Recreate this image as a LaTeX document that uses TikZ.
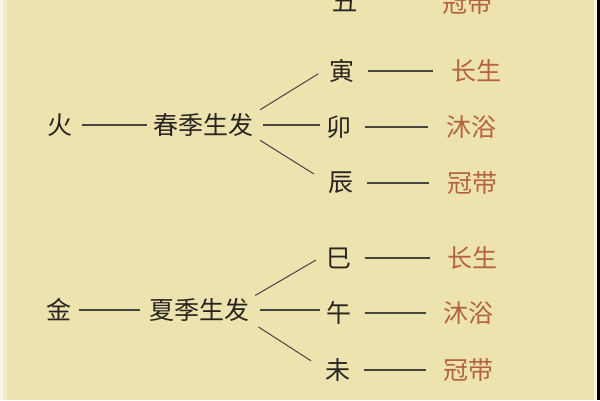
\documentclass[tikz,border=0pt]{standalone}
\usepackage{fontspec}
\usepackage{xcolor}
\usepackage{tikz}
\usetikzlibrary{positioning}
\newfontfamily\cjk{Noto Sans CJK SC}
\definecolor{paper}{RGB}{237,227,175}
\definecolor{ink}{RGB}{40,36,32}
\definecolor{rust}{RGB}{181,99,60}

\begin{document}
\begin{tikzpicture}[x=1pt, y=-1pt,
    zi/.style={text=ink, inner sep=0pt, font=\cjk\fontsize{25}{25}\selectfont},
    stage/.style={zi, text=rust},
    link/.style={draw=ink!85, line width=1.6pt},
    branch/.style={draw=ink!85, line width=1pt}]
    \useasboundingbox (0,0) rectangle (600,400);
    \clip (0,0) rectangle (600,400);
    % paper and its edges
    \fill[paper] (0,0) rectangle (600,400);
    \fill[white!70!paper] (0,0) rectangle (3,400);
    \fill[white!35!paper] (3,0) rectangle (7,400);
    \fill[white!60!paper] (594,0) rectangle (597,400);
    \fill[black] (597,0) rectangle (600,400);
    % cut row at the top
    \node[zi] (chou) at (345,1) {丑};
    \node[stage] (chou-s) at (467,3) {冠带};
    % huo group
    \node[zi] (huo) at (60,125) {火};
    \node[zi] (chun) at (203,125) {春季生发};
    \foreach \n/\x/\y/\t/\sx/\s in {yin/342/71/寅/476/长生, mao/339/127/卯/471/沐浴, chen/341/183/辰/472/冠带}{
        \node[zi] (\n) at (\x,\y) {\t};
        \node[stage] (\n-s) at (\sx,\y) {\s};
        \draw[link, shorten <=13pt, shorten >=18pt] (\n) -- (\n-s);
    }
    \draw[link, shorten <=9pt, shorten >=6pt] (huo) -- (chun);
    \draw[branch, shorten <=8pt, shorten >=13pt] ([yshift=11pt]chun.east) -- ([yshift=4pt]yin.west);
    \draw[link, shorten <=10pt, shorten >=6pt] (chun.east) -- (chun.east -| mao.west);
    \draw[branch, shorten <=8pt, shorten >=17pt] ([yshift=-11pt]chun.east) -- (chen.west);
    % jin group
    \node[zi] (jin) at (59,310) {金};
    \node[zi] (xia) at (199,310) {夏季生发};
    \foreach \n/\x/\y/\t/\sx/\s in {si/339/258/巳/472/长生, wu/339/313/午/468/沐浴, wei/338/370/未/468/冠带}{
        \node[zi] (\n) at (\x,\y) {\t};
        \node[stage] (\n-s) at (\sx,\y) {\s};
        \draw[link, shorten <=13pt, shorten >=17pt] (\n) -- (\n-s);
    }
    \draw[link, shorten <=7pt, shorten >=9pt] (jin) -- (xia);
    \draw[branch, shorten <=7pt, shorten >=12pt] ([yshift=11pt]xia.east) -- ([yshift=4pt]si.west);
    \draw[link, shorten <=11pt, shorten >=6pt] (xia.east) -- (xia.east -| wu.west);
    \draw[branch, shorten <=11pt, shorten >=17pt] ([yshift=-11pt]xia.east) -- (wei.west);
\end{tikzpicture}
\end{document}
